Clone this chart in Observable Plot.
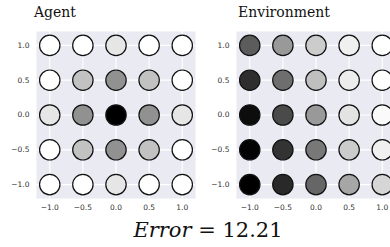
<!DOCTYPE html>
<html>
<head>
<meta charset="utf-8">
<script src="https://cdn.jsdelivr.net/npm/d3@7"></script>
<script src="https://cdn.jsdelivr.net/npm/@observablehq/plot@0.6"></script>
<style>
html, body { margin: 0; padding: 0; background: #fff; overflow: hidden; width: 390px; height: 247px; }
#wrap { position: relative; width: 390px; height: 247px; overflow: hidden; }
.panel { position: absolute; top: 0; width: 200px; height: 215px; }
.panel svg { max-width: none !important; }
.title { position: absolute; font-family: "DejaVu Serif", serif; font-size: 14px; line-height: 14px; color: #111; white-space: nowrap; }
#err { position: absolute; left: 0; width: 416px; text-align: center; top: 218px; font-family: "DejaVu Serif", serif; font-size: 21px; line-height: 24px; color: #111; white-space: nowrap; }
</style>
</head>
<body>
<div id="wrap">
  <div class="title" id="t1" style="left:34px; top:5px;">Agent</div>
  <div class="title" id="t2" style="left:238px; top:5px;">Environment</div>
  <div class="panel" id="p1" style="left:0px;"></div>
  <div class="panel" id="p2" style="left:200px;"></div>
  <div id="err"><i>Error</i> = 12.21</div>
</div>
<script>
const xs = [-1.0, -0.5, 0.0, 0.5, 1.0];
const ys = [1.0, 0.5, 0.0, -0.5, -1.0];
const ticks = [-1.0, -0.5, 0.0, 0.5, 1.0];
// darkness (0 = white, 1 = black), rows from y = 1.0 down to y = -1.0
const agentValues = [
  [0.00, 0.00, 0.10, 0.00, 0.00],
  [0.00, 0.24, 0.43, 0.24, 0.00],
  [0.10, 0.43, 1.00, 0.43, 0.10],
  [0.00, 0.24, 0.43, 0.24, 0.00],
  [0.00, 0.00, 0.10, 0.00, 0.00]
];
const envValues = [
  [0.64, 0.40, 0.20, 0.06, 0.00],
  [0.82, 0.57, 0.25, 0.07, 0.00],
  [0.95, 0.71, 0.40, 0.11, 0.02],
  [0.99, 0.80, 0.53, 0.20, 0.06],
  [1.00, 0.84, 0.60, 0.35, 0.16]
];

function table(vals) {
  const out = [];
  ys.forEach((y, i) => xs.forEach((x, j) => out.push({x, y, v: vals[i][j]})));
  return out;
}

function panel(vals) {
  return Plot.plot({
    width: 200,
    height: 215,
    marginLeft: 36,
    marginRight: 5,
    marginTop: 31,
    marginBottom: 17,
    style: {fontFamily: "DejaVu Sans, sans-serif", fontSize: "7.5px", color: "#333", background: "transparent", overflow: "visible", maxWidth: "none"},
    x: {domain: [-1.2, 1.2]},
    y: {domain: [-1.2, 1.2]},
    color: {type: "linear", domain: [0, 1], range: ["#ffffff", "#000000"]},
    marks: [
      Plot.frame({fill: "#eaeaf2", stroke: null}),
      Plot.gridX(ticks, {stroke: "#ffffff", strokeOpacity: 1, strokeWidth: 1.2}),
      Plot.gridY(ticks, {stroke: "#ffffff", strokeOpacity: 1, strokeWidth: 1.2}),
      Plot.axisX({ticks: ticks, tickFormat: d3.format(".1f"), tickSize: 0, tickPadding: 6, label: null, fill: "#333"}),
      Plot.axisY({ticks: ticks, tickFormat: d3.format(".1f"), tickSize: 0, tickPadding: 7, label: null, fill: "#333"}),
      Plot.dot(table(vals), {x: "x", y: "y", r: 10.2, fill: "v", stroke: "#111", strokeWidth: 1.2})
    ]
  });
}

document.getElementById("p1").appendChild(panel(agentValues));
document.getElementById("p2").appendChild(panel(envValues));
</script>
</body>
</html>
